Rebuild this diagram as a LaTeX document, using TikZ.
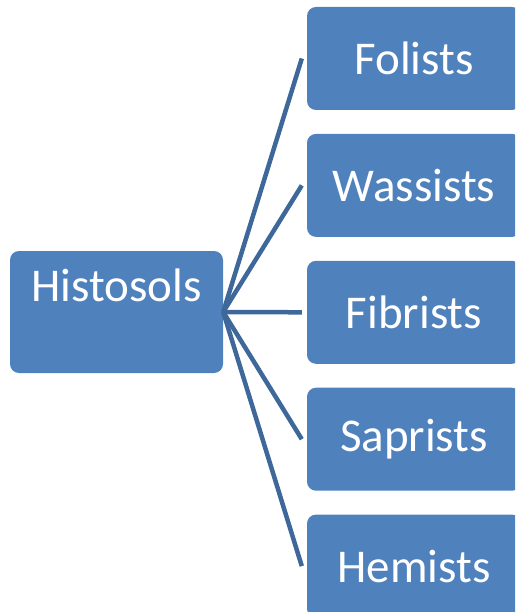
\documentclass[tikz,border=0pt]{standalone}
\usepackage{fontspec}
\setmainfont{Carlito}
\usetikzlibrary{positioning}
\definecolor{boxblue}{HTML}{4F81BD}
\definecolor{linkblue}{HTML}{3D6899}

\begin{document}
\begin{tikzpicture}[
  x=1pt, y=-1pt,
  node distance=23.5pt,
  box/.style={fill=boxblue, rounded corners=9pt, inner sep=0pt, text=white,
    font=\fontsize{47}{50}\selectfont},
  leaf/.style={box, minimum width=214pt, minimum height=103pt},
  root/.style={box, minimum width=213pt, text height=50pt, text depth=72pt},
  link/.style={linkblue, line width=4.5pt}
]
  \useasboundingbox (0,0) rectangle (515,612);
  \clip (0,0) rectangle (515,612);
  % root box
  \node[root] (hist) at (116.5,312) {Histosols};
  % suborders
  \node[leaf] (fol) at (414,58.5) {Folists};
  \node[leaf, below=of fol] (was) {Wassists};
  \node[leaf, below=of was] (fib) {Fibrists};
  \node[leaf, below=of fib] (sap) {Saprists};
  \node[leaf, below=of sap] (hem) {Hemists};
  \foreach \n in {fol,was,fib,sap,hem}
    \draw[link] (hist.east) -- ([xshift=-5pt]\n.west);
\end{tikzpicture}
\end{document}
